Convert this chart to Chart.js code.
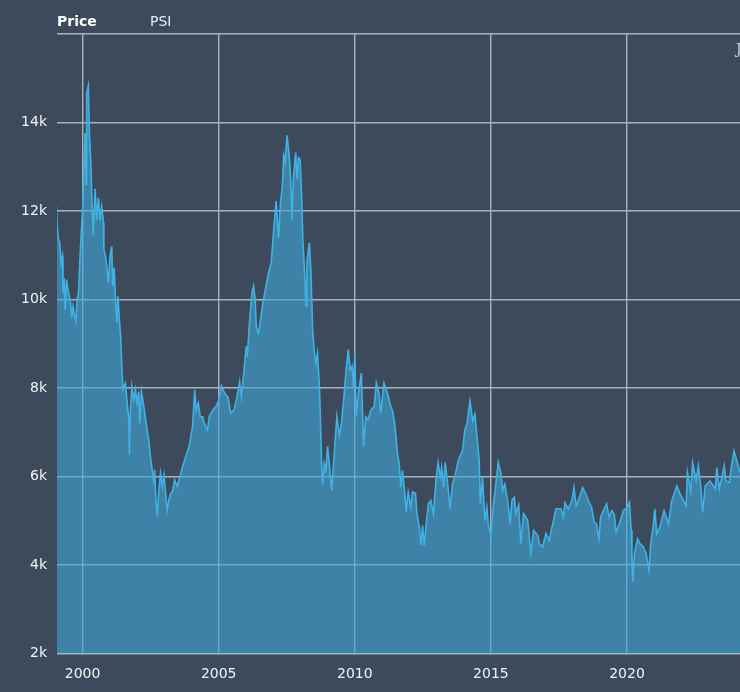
<!DOCTYPE html>
<html><head><meta charset="utf-8">
<style>html,body{margin:0;padding:0;background:#3d4a5c;overflow:hidden}canvas{display:block}</style>
<script src="https://cdn.jsdelivr.net/npm/chart.js@4"></script>
</head><body><canvas id="c" width="740" height="692"></canvas>
<script>
const years=[1999.04,1999.06,1999.11,1999.16,1999.21,1999.26,1999.28,1999.32,1999.36,1999.41,1999.46,1999.51,1999.56,1999.60,1999.65,1999.70,1999.75,1999.80,1999.85,1999.90,1999.95,2000.00,2000.09,2000.13,2000.15,2000.21,2000.25,2000.30,2000.34,2000.39,2000.46,2000.52,2000.58,2000.64,2000.70,2000.77,2000.78,2000.83,2000.89,2000.95,2001.01,2001.07,2001.11,2001.16,2001.21,2001.26,2001.30,2001.36,2001.40,2001.44,2001.48,2001.57,2001.60,2001.65,2001.70,2001.72,2001.75,2001.81,2001.88,2001.94,2002.00,2002.06,2002.10,2002.16,2002.25,2002.35,2002.43,2002.49,2002.56,2002.62,2002.65,2002.69,2002.74,2002.79,2002.86,2002.93,2002.99,2003.05,2003.11,2003.17,2003.23,2003.30,2003.38,2003.48,2003.58,2003.67,2003.79,2003.91,2004.04,2004.12,2004.17,2004.25,2004.32,2004.41,2004.47,2004.59,2004.65,2004.78,2004.90,2005.00,2005.10,2005.22,2005.34,2005.44,2005.56,2005.65,2005.77,2005.83,2005.91,2006.01,2006.05,2006.13,2006.22,2006.28,2006.34,2006.38,2006.46,2006.54,2006.62,2006.74,2006.83,2006.93,2007.02,2007.11,2007.20,2007.27,2007.33,2007.39,2007.44,2007.51,2007.59,2007.63,2007.70,2007.74,2007.83,2007.88,2007.93,2007.99,2008.05,2008.09,2008.15,2008.21,2008.24,2008.33,2008.39,2008.45,2008.51,2008.57,2008.63,2008.70,2008.73,2008.78,2008.82,2008.88,2008.94,2009.00,2009.06,2009.15,2009.22,2009.28,2009.34,2009.43,2009.51,2009.61,2009.67,2009.76,2009.83,2009.90,2009.95,2010.00,2010.05,2010.12,2010.24,2010.32,2010.40,2010.49,2010.59,2010.71,2010.79,2010.89,2010.95,2011.07,2011.20,2011.32,2011.38,2011.47,2011.57,2011.63,2011.69,2011.75,2011.84,2011.89,2011.96,2012.06,2012.12,2012.23,2012.28,2012.37,2012.43,2012.49,2012.55,2012.61,2012.70,2012.79,2012.89,2012.98,2013.06,2013.14,2013.19,2013.26,2013.32,2013.41,2013.50,2013.59,2013.68,2013.80,2013.96,2014.04,2014.12,2014.23,2014.33,2014.41,2014.49,2014.57,2014.61,2014.69,2014.78,2014.85,2014.90,2015.00,2015.07,2015.18,2015.27,2015.37,2015.43,2015.51,2015.61,2015.71,2015.77,2015.86,2015.92,2016.02,2016.10,2016.20,2016.35,2016.47,2016.57,2016.72,2016.78,2016.90,2017.02,2017.14,2017.27,2017.39,2017.57,2017.66,2017.72,2017.84,2017.97,2018.05,2018.13,2018.21,2018.37,2018.49,2018.58,2018.70,2018.79,2018.88,2018.97,2019.03,2019.13,2019.25,2019.34,2019.44,2019.53,2019.60,2019.72,2019.87,2019.99,2020.09,2020.15,2020.18,2020.21,2020.27,2020.39,2020.48,2020.60,2020.70,2020.81,2020.87,2020.97,2021.02,2021.09,2021.21,2021.36,2021.52,2021.64,2021.83,2021.95,2022.17,2022.22,2022.34,2022.41,2022.54,2022.62,2022.71,2022.78,2022.87,2023.05,2023.24,2023.30,2023.39,2023.57,2023.63,2023.76,2023.85,2023.93,2024.03,2024.15];
const prices=[12110,11740,11360,11280,10830,10980,10150,10490,9770,10450,10220,10070,9920,9580,9850,9660,9510,10000,10150,10900,11500,12000,13760,12600,14660,14830,13760,13150,12300,11450,12500,11800,12300,11800,12100,11740,11130,11020,10750,10380,10980,11200,10300,10720,10000,9470,10070,9470,9170,8490,7960,8110,7920,7580,7280,6490,7430,8030,7730,7960,7660,7920,7200,7920,7580,7130,6830,6450,6150,5840,6150,5470,5090,5600,6070,5770,6030,5620,5240,5470,5620,5660,5920,5770,6000,6220,6450,6670,7130,7960,7500,7660,7350,7350,7200,7050,7350,7500,7580,7720,8050,7880,7800,7430,7500,7730,8140,7800,8260,8940,8700,9470,10150,10300,10000,9390,9230,9550,9920,10300,10600,10830,11580,12230,11400,12190,12490,13250,13100,13710,13250,12870,11810,12720,13320,12720,13200,13170,12260,11360,10680,9850,10830,11280,10600,9320,8830,8560,8790,8030,7430,6300,5810,6300,6150,6680,6300,5680,6300,6830,7350,6940,7200,7880,8340,8870,8410,8490,8030,8790,7350,7810,8340,6680,7350,7280,7500,7580,8110,7880,7430,8110,7880,7580,7490,7190,6510,6290,5760,6140,5600,5200,5650,5310,5650,5620,5160,4860,4440,4890,4440,4850,5380,5460,5160,5910,6320,5980,6200,5760,6320,5840,5270,5840,6020,6360,6590,7040,7190,7710,7260,7410,6890,6360,5380,5980,5000,5300,4930,4670,5230,5830,6320,6060,5680,5830,5460,4930,5460,5530,5160,5350,4480,5160,5010,4260,4780,4670,4480,4410,4710,4560,4930,5270,5270,5080,5410,5270,5450,5750,5340,5450,5750,5600,5450,5300,4970,4930,4590,5080,5230,5380,5080,5230,5150,4740,4930,5230,5290,5420,4790,4180,3620,4260,4590,4480,4410,4260,3880,4480,4930,5270,4710,4860,5230,4930,5450,5790,5600,5340,6090,5670,6310,5900,6240,5750,5190,5790,5900,5720,6200,5720,6240,5900,5870,6280,6580,6360,6090];
const xTicks=[2000,2005,2010,2015,2020];
const yTicks=[2000,4000,6000,8000,10000,12000,14000,16000];
const yTickLabels=['2k','4k','6k','8k','10k','12k','14k',''];
const yAxisTitle='Price';
const seriesName='PSI';
const clippedLabel='J';

const FONT='"DejaVu Sans"';
const headerText={id:'headerText',afterDraw(ch){
  const c=ch.ctx;c.save();c.textBaseline='alphabetic';c.textAlign='left';
  c.fillStyle='#ffffff';c.font='bold 14px '+FONT;c.fillText(yAxisTitle,57,26);
  c.fillStyle='#e8ecf0';c.font='14px '+FONT;c.fillText(seriesName,150,26);
  c.fillStyle='#c8d0da';c.font='14px "DejaVu Serif"';c.fillText(clippedLabel,736,54);
  c.restore();
}};
new Chart(document.getElementById('c'),{
  type:'line',
  data:{datasets:[{label:seriesName,data:years.map((x,i)=>({x,y:prices[i]})),
    borderColor:'#3fb2e4',borderWidth:1.6,backgroundColor:'rgba(64,165,215,0.62)',
    fill:'start',pointRadius:0,tension:0,borderJoinStyle:'miter'}]},
  options:{responsive:false,animation:false,devicePixelRatio:1,
    layout:{padding:{top:34,right:0,left:0,bottom:0}},
    plugins:{legend:{display:false},tooltip:{enabled:false}},
    scales:{
      x:{type:'linear',min:1999.06,max:2024.15,
        afterBuildTicks(a){a.ticks=xTicks.map(value=>({value}))},
        afterFit(a){a.height=38.5},
        grid:{color:'#a9b3c0',lineWidth:1.4,drawTicks:false},border:{display:false},
        ticks:{color:'#f2f4f6',font:{family:'"DejaVu Sans"',size:14},padding:12,maxRotation:0,autoSkip:false,callback:v=>String(v)}},
      y:{min:2000,max:16000,
        afterBuildTicks(a){a.ticks=yTicks.map(value=>({value}))},
        afterFit(a){a.width=57},
        grid:{color:'#a9b3c0',lineWidth:1.4,drawTicks:false},border:{display:false},
        ticks:{color:'#f2f4f6',font:{family:'"DejaVu Sans"',size:14},padding:10,autoSkip:false,
          callback(v){return yTickLabels[yTicks.indexOf(v)]}}}
    }},
  plugins:[headerText]
});
</script></body></html>
